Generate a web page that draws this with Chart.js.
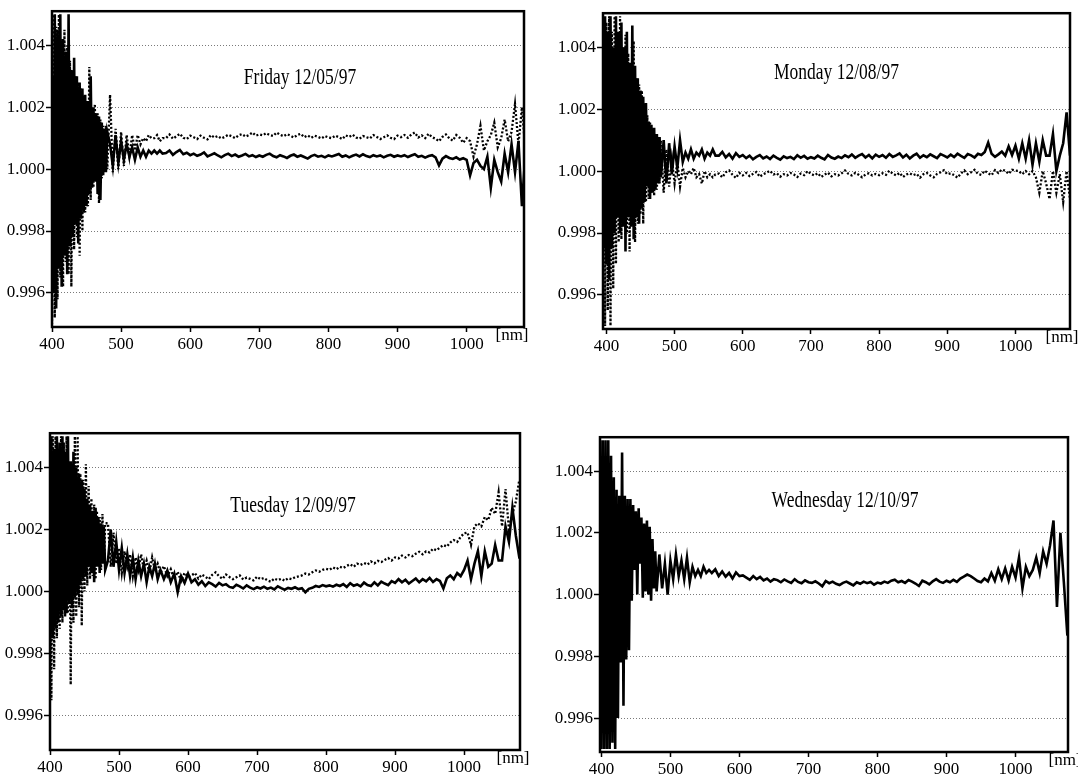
<!DOCTYPE html>
<html lang="en">
<head>
<meta charset="UTF-8">
<title>Ratio spectra 12/05 - 12/10/97</title>
<style>
  body { margin: 0; background: #fff; }
  #wrap { position: relative; width: 1078px; height: 777px; overflow: hidden; background: #fff; }
  #wrap canvas { position: absolute; }
</style>
</head>
<body>
<div id="wrap">
  <canvas id="fri"></canvas>
  <canvas id="mon"></canvas>
  <canvas id="tue"></canvas>
  <canvas id="wed"></canvas>
</div>
<script src="https://cdn.jsdelivr.net/npm/chart.js@4.4.0/dist/chart.umd.min.js"></script>
<script>
// wavelength grid [nm]: dense where the ratio is noisy, coarser further on
const wavelength = [
  394,396,398,400,402,404,406,408,410,412,414,
  416,418,420,422,424,426,428,430,432,434,436,
  438,440,442,444,446,448,450,452,454,456,458,
  460,462,464,466,468,470,472,474,476,478,480,
  484,488,492,496,500,504,508,512,516,520,
  524,528,532,536,540,544,548,552,556,560,
  565,570,575,580,585,590,595,600,
  605,610,615,620,625,630,635,640,645,650,655,660,665,670,675,680,685,690,695,700,
  705,710,715,720,725,730,735,740,745,750,755,760,765,770,775,780,785,790,795,800,
  805,810,815,820,825,830,835,840,845,850,855,860,865,870,875,880,885,890,895,900,
  905,910,915,920,925,930,935,940,945,950,955,960,965,970,975,980,985,990,995,1000,
  1005,1010,1015,1020,1025,1030,1035,1040,1045,1050,1055,1060,1065,1070,1075,1080,1085
];

const fridaySolid = [
  0.9960,1.0048,0.9955,1.0030,0.9960,1.0050,0.9955,1.0045,0.9968,1.0050,0.9962,
  1.0042,0.9972,1.0038,0.9966,1.0050,0.9975,1.0032,0.9978,1.0036,0.9982,1.0030,
  0.9976,1.0028,0.9984,1.0026,0.9986,1.0024,0.9988,1.0022,0.9992,1.0030,0.9994,
  1.0020,0.9996,1.0018,0.9992,1.0017,0.9990,1.0015,0.9998,1.0013,0.9999,1.0012,
  1.0008,1.0001,1.0011,1.0002,1.0009,1.0003,1.0008,1.0004,1.0007,1.0003,
  1.0007,1.0004,1.0006,1.0004,1.0006,1.0005,1.0006,1.0005,1.0006,1.0005,
  1.00052,1.00060,1.00046,1.00055,1.00062,1.00048,1.00053,1.00045,
  1.00050,1.00043,1.00047,1.00054,1.00041,1.00046,1.00051,1.00044,1.00038,1.00045,1.00050,1.00042,1.00047,1.00040,1.00044,1.00049,1.00041,1.00045,1.00039,1.00044,
  1.00040,1.00046,1.00050,1.00042,1.00038,1.00045,1.00041,1.00036,1.00043,1.00047,1.00040,1.00044,1.00039,1.00034,1.00042,1.00046,1.00040,1.00043,1.00038,1.00044,
  1.00041,1.00045,1.00049,1.00040,1.00044,1.00038,1.00043,1.00047,1.00041,1.00048,1.00042,1.00039,1.00045,1.00041,1.00044,1.00038,1.00043,1.00046,1.00040,1.00044,
  1.00041,1.00045,1.00039,1.00044,1.00048,1.00040,1.00043,1.00037,1.00042,1.00045,1.00038,1.00012,1.00034,1.00042,1.00036,1.00033,1.00038,1.00031,1.00035,1.00030,
  0.9998,1.0002,1.0003,1.0001,1.0000,1.0004,0.9994,1.0003,0.9999,0.9996,1.0005,0.9999,1.0008,0.9999,1.0009,0.9988,1.0005
];
const fridayDotted = [
  1.0050,0.9952,1.0046,0.9950,1.0050,0.9952,1.0046,0.9958,1.0050,0.9965,1.0040,
  0.9962,1.0045,0.9970,1.0040,0.9966,1.0035,0.9962,1.0032,0.9974,1.0030,0.9978,
  1.0028,0.9972,1.0026,0.9980,1.0024,0.9986,1.0022,0.9988,1.0033,0.9990,1.0020,
  0.9994,1.0021,0.9996,1.0018,0.9989,1.0016,0.9997,1.0014,0.9999,1.0014,1.0000,
  1.0024,0.9999,1.0013,1.0000,1.0012,1.0001,1.0011,1.0004,1.0011,1.0006,
  1.0011,1.0008,1.0010,1.0009,1.0011,1.0010,1.0010,1.0011,1.0009,1.0010,
  1.00100,1.00112,1.00098,1.00106,1.00114,1.00101,1.00097,1.00108,
  1.00103,1.00097,1.00108,1.00101,1.00096,1.00110,1.00102,1.00107,1.00099,1.00104,1.00111,1.00106,1.00100,1.00109,1.00113,1.00105,1.00110,1.00118,1.00108,1.00112,
  1.00109,1.00116,1.00110,1.00107,1.00118,1.00111,1.00106,1.00113,1.00108,1.00102,1.00110,1.00114,1.00103,1.00109,1.00101,1.00108,1.00104,1.00099,1.00107,1.00102,
  1.00100,1.00108,1.00103,1.00097,1.00109,1.00104,1.00111,1.00102,1.00098,1.00107,1.00103,1.00099,1.00110,1.00104,1.00097,1.00103,1.00109,1.00101,1.00097,1.00108,
  1.00103,1.00110,1.00101,1.00112,1.00118,1.00102,1.00109,1.00100,1.00114,1.00103,1.00098,1.00090,1.00104,1.00112,1.00099,1.00092,1.00110,1.00101,1.00085,1.00100,
  1.0009,1.0004,1.0008,1.0014,1.0006,1.0009,1.0011,1.0015,1.0007,1.0010,1.0016,1.0009,1.0012,1.0021,1.0008,1.0020,1.0006
];

const mondaySolid = [
  1.0050,0.9975,1.0050,0.9970,1.0045,0.9965,1.0050,0.9975,1.0040,0.9980,1.0050,
  0.9985,1.0045,0.9980,1.0048,0.9982,1.0040,0.9974,1.0045,0.9985,1.0035,0.9982,
  1.0047,0.9978,1.0034,0.9985,1.0030,0.9983,1.0026,0.9988,1.0024,0.9990,1.0022,
  0.9995,1.0016,0.9991,1.0015,0.9993,1.0014,0.9994,1.0012,0.9996,1.0011,0.9998,
  1.0010,0.9996,1.0009,0.9999,1.0008,1.0001,1.0010,1.0003,1.0006,1.0004,
  1.0007,1.0004,1.0006,1.0005,1.0007,1.0004,1.0006,1.0005,1.0007,1.0005,
  1.00050,1.00062,1.00044,1.00055,1.00040,1.00058,1.00046,1.00052,
  1.00042,1.00050,1.00038,1.00046,1.00052,1.00041,1.00047,1.00039,1.00050,1.00043,1.00037,1.00048,1.00042,1.00046,1.00039,1.00051,1.00043,1.00049,1.00040,1.00045,
  1.00041,1.00050,1.00043,1.00038,1.00052,1.00044,1.00040,1.00047,1.00042,1.00051,1.00045,1.00054,1.00043,1.00050,1.00055,1.00044,1.00052,1.00041,1.00053,1.00046,
  1.00052,1.00043,1.00055,1.00046,1.00051,1.00057,1.00044,1.00053,1.00041,1.00050,1.00056,1.00043,1.00051,1.00045,1.00054,1.00048,1.00042,1.00055,1.00050,1.00044,
  1.00053,1.00045,1.00056,1.00049,1.00043,1.00055,1.00051,1.00044,1.00056,1.00052,1.00062,1.00092,1.00056,1.00046,1.00054,1.00063,1.00050,1.00080,1.00052,1.00082,
  1.0004,1.0009,1.0004,1.0010,1.0002,1.0009,1.0003,1.0010,1.0005,1.0005,1.0012,1.0000,1.0005,1.0009,1.0019,1.0005,1.0005
];
const mondayDotted = [
  0.9960,1.0050,0.9950,1.0048,0.9955,1.0050,0.9950,1.0045,0.9962,1.0050,0.9970,
  1.0042,0.9977,1.0050,0.9978,1.0040,0.9985,1.0044,0.9980,1.0038,0.9974,1.0033,
  0.9984,1.0042,0.9977,1.0030,0.9983,1.0028,0.9986,1.0026,0.9983,1.0020,0.9990,
  1.0018,0.9991,1.0016,0.9993,1.0014,0.9992,1.0012,0.9994,1.0011,0.9996,1.0010,
  0.9993,1.0007,0.9995,1.0004,0.9996,1.0003,0.9995,1.0001,0.9998,1.0000,
  0.9999,1.0001,0.9998,0.9999,0.9996,1.0000,0.9998,0.9999,0.9998,0.9999,
  0.99992,0.99980,0.99996,1.00002,0.99988,0.99978,0.99994,0.99986,
  0.99994,0.99984,0.99991,0.99997,0.99982,0.99990,0.99995,1.00001,0.99989,0.99993,0.99982,0.99990,0.99986,0.99994,0.99989,0.99981,0.99992,0.99987,1.00000,0.99991,
  0.99986,0.99993,0.99981,0.99989,0.99995,0.99983,0.99990,0.99986,0.99993,1.00002,0.99991,0.99986,0.99994,0.99988,0.99980,0.99989,0.99993,0.99986,0.99991,0.99987,
  0.99993,0.99988,1.00001,0.99992,0.99986,0.99994,0.99981,0.99989,0.99993,0.99987,0.99991,0.99979,0.99990,0.99994,0.99986,0.99980,0.99991,0.99996,1.00003,0.99990,
  0.99993,0.99987,0.99979,0.99992,1.00002,0.99990,0.99996,1.00004,0.99991,0.99988,1.00001,0.99993,0.99987,1.00003,0.99994,1.00005,1.00001,0.99991,1.00004,1.00002,
  1.0000,0.9999,1.0000,0.9999,1.0000,0.9998,0.9993,1.0000,0.9996,0.9991,1.0000,0.9993,0.9999,0.9990,1.0000,0.9991,0.9995
];

const tuesdaySolid = [
  1.0040,0.9980,1.0050,0.9982,1.0050,0.9985,1.0046,0.9988,1.0050,0.9990,1.0048,
  0.9992,1.0050,0.9994,1.0045,0.9993,1.0050,0.9996,1.0042,0.9995,1.0045,0.9998,
  1.0040,0.9999,1.0038,1.0002,1.0036,1.0004,1.0033,1.0005,1.0030,1.0008,1.0028,
  1.0006,1.0026,1.0003,1.0027,1.0008,1.0024,1.0006,1.0022,1.0009,1.0021,1.0007,
  1.0010,1.0020,1.0008,1.0016,1.0007,1.0014,1.0006,1.0012,1.0005,1.0011,
  1.0004,1.0010,1.0005,1.0009,1.0003,1.0008,1.0005,1.0009,1.0004,1.0007,
  1.00040,1.00068,1.00030,1.00058,0.99998,1.00050,1.00028,1.00058,
  1.00030,1.00040,1.00022,1.00033,1.00018,1.00030,1.00024,1.00016,1.00028,1.00020,1.00024,1.00015,1.00012,1.00022,1.00017,1.00010,1.00020,1.00013,1.00008,1.00014,
  1.00010,1.00016,1.00009,1.00013,1.00007,1.00017,1.00011,1.00006,1.00012,1.00009,1.00014,1.00008,1.00011,0.99998,1.00009,1.00012,1.00018,1.00015,1.00021,1.00017,
  1.00020,1.00016,1.00022,1.00018,1.00024,1.00015,1.00027,1.00019,1.00023,1.00017,1.00029,1.00021,1.00018,1.00030,1.00020,1.00032,1.00026,1.00021,1.00034,1.00028,
  1.00040,1.00030,1.00038,1.00026,1.00034,1.00042,1.00030,1.00040,1.00033,1.00044,1.00031,1.00040,1.00034,1.00010,1.00043,1.00052,1.00040,1.00060,1.00050,1.00070,
  1.0010,1.0004,1.0009,1.0013,1.0005,1.0013,1.0008,1.0009,1.0015,1.0010,1.0010,1.0021,1.0016,1.0027,1.0018,1.0011,1.0011
];
const tuesdayDotted = [
  0.9958,1.0050,0.9960,1.0045,0.9965,1.0050,0.9975,1.0050,0.9985,1.0042,0.9988,
  1.0050,0.9990,1.0048,0.9992,1.0050,0.9993,1.0035,0.9970,1.0040,0.9990,1.0050,
  0.9992,1.0050,0.9995,1.0038,0.9989,1.0036,1.0000,1.0041,1.0002,1.0034,1.0004,
  1.0030,1.0005,1.0028,1.0004,1.0026,1.0008,1.0024,1.0007,1.0025,1.0009,1.0022,
  1.0022,1.0008,1.0019,1.0009,1.0014,1.0006,1.0013,1.0008,1.0012,1.0005,
  1.0011,1.0007,1.0012,1.0007,1.0010,1.0006,1.0011,1.0007,1.0009,1.0006,
  1.00082,1.00050,1.00072,1.00040,1.00064,1.00034,1.00060,1.00048,
  1.00052,1.00060,1.00042,1.00055,1.00048,1.00040,1.00054,1.00062,1.00049,1.00041,1.00055,1.00047,1.00040,1.00046,1.00052,1.00039,1.00045,1.00041,1.00036,1.00048,
  1.00040,1.00044,1.00036,1.00032,1.00042,1.00037,1.00041,1.00035,1.00043,1.00040,1.00046,1.00049,1.00052,1.00058,1.00055,1.00062,1.00068,1.00064,1.00070,1.00073,
  1.00070,1.00078,1.00072,1.00080,1.00076,1.00083,1.00088,1.00080,1.00090,1.00086,1.00092,1.00087,1.00097,1.00091,1.00099,1.00095,1.00102,1.00108,1.00100,1.00110,
  1.00107,1.00116,1.00110,1.00118,1.00114,1.00122,1.00128,1.00120,1.00130,1.00126,1.00138,1.00133,1.00142,1.00150,1.00145,1.00158,1.00166,1.00160,1.00176,1.00188,
  1.0019,1.0015,1.0021,1.0022,1.0021,1.0024,1.0023,1.0027,1.0025,1.0032,1.0021,1.0033,1.0020,1.0025,1.0029,1.0036,1.0036
];

const wednesdaySolid = [
  1.0050,0.9950,1.0050,0.9950,1.0050,0.9950,1.0050,0.9950,1.0050,0.9950,1.0045,
  0.9952,1.0038,0.9950,1.0034,0.9960,1.0032,0.9978,1.0046,0.9964,1.0032,0.9979,
  1.0031,0.9982,1.0031,0.9998,1.0029,1.0008,1.0027,1.0000,1.0028,1.0010,1.0025,
  0.9999,1.0023,1.0001,1.0024,1.0000,1.0022,0.9998,1.0018,1.0002,1.0014,1.0001,
  1.0013,1.0002,1.0010,1.0000,1.0011,1.0005,1.0013,1.0006,1.0011,1.0005,
  1.0012,1.0004,1.0009,1.0006,1.0008,1.0006,1.0009,1.0007,1.0008,1.0007,
  1.00082,1.00060,1.00075,1.00058,1.00070,1.00052,1.00072,1.00060,
  1.00062,1.00055,1.00048,1.00060,1.00050,1.00057,1.00046,1.00052,1.00042,1.00050,1.00047,1.00040,1.00049,1.00043,1.00038,1.00050,1.00041,1.00037,1.00046,1.00040,
  1.00038,1.00043,1.00036,1.00027,1.00044,1.00037,1.00042,1.00035,1.00031,1.00038,1.00042,1.00036,1.00030,1.00040,1.00035,1.00042,1.00037,1.00041,1.00032,1.00039,
  1.00036,1.00042,1.00038,1.00045,1.00048,1.00040,1.00044,1.00038,1.00047,1.00042,1.00036,1.00028,1.00045,1.00040,1.00033,1.00043,1.00050,1.00042,1.00038,1.00045,
  1.00040,1.00048,1.00041,1.00052,1.00058,1.00065,1.00060,1.00052,1.00044,1.00040,1.00052,1.00043,1.00070,1.00045,1.00082,1.00050,1.00085,1.00046,1.00090,1.00055,
  1.0012,1.0002,1.0009,1.0006,1.0008,1.0012,1.0007,1.0014,1.0010,1.0016,1.0024,0.9996,1.0020,1.0004,0.9987,0.9986,0.9986
];

const xTicks = [400, 500, 600, 700, 800, 900, 1000];
const yTicks = [0.996, 0.998, 1.000, 1.002, 1.004];
const yMin = 0.9949, yMax = 1.0051;

[fridaySolid, fridayDotted, mondaySolid, mondayDotted, tuesdaySolid, tuesdayDotted, wednesdaySolid]
  .forEach((s, i) => { if (s.length !== wavelength.length) console.warn('series', i, 'length', s.length); });

Chart.defaults.font.family = "'Liberation Serif', 'Times New Roman', serif";
Chart.defaults.font.size = 17;
Chart.defaults.color = '#000';

// frame round the plot, the day label and the unit
const panelDecor = {
  id: 'panelDecor',
  afterDraw(chart, args, opts) {
    const a = chart.chartArea, ctx = chart.ctx;
    ctx.save();
    ctx.strokeStyle = '#000';
    ctx.lineWidth = 2.5;
    ctx.strokeRect(a.left, a.top, a.right - a.left, a.bottom - a.top);
    ctx.fillStyle = '#000';
    ctx.textAlign = 'center';
    ctx.textBaseline = 'middle';
    ctx.save();
    ctx.translate((a.left + a.right) / 2 + opts.dx, a.top + opts.dy);
    ctx.scale(1, 1.28);
    ctx.font = "17.5px 'Liberation Serif'";
    ctx.fillText(opts.title, 0, 0);
    ctx.restore();
    ctx.font = "17px 'Liberation Serif'";
    ctx.fillText('[nm]', a.right + opts.nmDx, a.bottom + 9);
    ctx.restore();
  }
};

function line(values, dotted) {
  return {
    data: wavelength.map((w, i) => ({ x: w, y: values[i] })),
    borderColor: '#000',
    borderWidth: dotted ? 2.3 : 2.6,
    borderDash: dotted ? [2, 2] : [],
    pointRadius: 0,
    tension: 0,
    fill: false
  };
}

function panel(id, box, xMin, xMax, series, deco) {
  const cv = document.getElementById(id);
  cv.width = box.w;
  cv.height = box.h;
  cv.style.left = box.left + 'px';
  cv.style.top = box.top + 'px';
  new Chart(cv, {
    type: 'line',
    data: { datasets: series },
    options: {
      responsive: false,
      animation: false,
      events: [],
      layout: { padding: { left: 0, top: 10, right: box.padR, bottom: 0 } },
      plugins: { legend: { display: false }, tooltip: { enabled: false }, panelDecor: deco },
      scales: {
        x: {
          type: 'linear',
          min: xMin,
          max: xMax,
          afterBuildTicks: s => { s.ticks = xTicks.map(v => ({ value: v })); },
          afterFit: s => { s.height = box.xh; },
          grid: { drawOnChartArea: false, tickLength: 5, tickColor: '#000', tickWidth: 1.5 },
          border: { display: false },
          ticks: { padding: 2, maxRotation: 0, autoSkip: false, callback: v => String(v) }
        },
        y: {
          min: yMin,
          max: yMax,
          afterBuildTicks: s => { s.ticks = yTicks.map(v => ({ value: v })); },
          afterFit: s => { s.width = box.yw; },
          grid: { color: '#7a7a7a', lineWidth: 1, tickLength: 6, tickColor: '#000', tickWidth: 1.5, tickBorderDash: [] },
          border: { display: false, dash: [1, 2] },
          ticks: { padding: 1, callback: v => v.toFixed(3) }
        }
      }
    },
    plugins: [panelDecor]
  });
}

panel('fri', { left: 0, top: 0, w: 544, h: 359, yw: 52, xh: 32, padR: 20 }, 400, 1083,
  [line(fridaySolid, false), line(fridayDotted, true)],
  { title: 'Friday 12/05/97', dx: 12, dy: 67, nmDx: -12 });
panel('mon', { left: 551, top: 2, w: 527, h: 359, yw: 52, xh: 32, padR: 8 }, 395, 1080,
  [line(mondaySolid, false), line(mondayDotted, true)],
  { title: 'Monday 12/08/97', dx: 0, dy: 60, nmDx: -8 });
panel('tue', { left: 0, top: 422, w: 540, h: 355, yw: 50, xh: 27, padR: 20 }, 400, 1081,
  [line(tuesdaySolid, false), line(tuesdayDotted, true)],
  { title: 'Tuesday 12/09/97', dx: 8, dy: 73, nmDx: -7 });
panel('wed', { left: 548, top: 426, w: 530, h: 351, yw: 52, xh: 25, padR: 10 }, 398, 1076,
  [line(wednesdaySolid, false)],
  { title: 'Wednesday 12/10/97', dx: 11, dy: 64, nmDx: -3 });
</script>
</body>
</html>
